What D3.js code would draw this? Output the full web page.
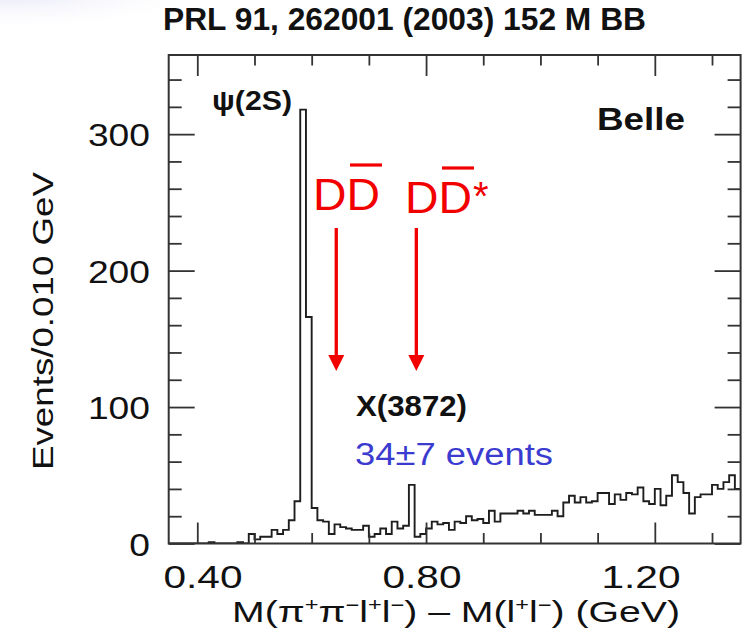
<!DOCTYPE html>
<html>
<head>
<meta charset="utf-8">
<script src="https://cdn.jsdelivr.net/npm/d3@7"></script>
<style>
  html, body { margin: 0; padding: 0; background: #fff; }
  svg { display: block; font-family: "Liberation Sans", Arial, Helvetica, sans-serif; }
</style>
</head>
<body>
<svg id="chart" width="746" height="630"></svg>
<script>
// ---- data: M(pi pi l l) - M(l l), events per 0.010 GeV bin ----
const binStart = 0.35;
const binWidth = 0.01;
const counts = [
  0, 0, 0, 0, 0, 0, 0, 1, 0, 0,          // 0.35 - 0.44
  0, 0, 1, 0, 7, 3, 5, 5, 10, 7,         // 0.45 - 0.54
  10, 17, 31, 318, 166, 26, 17, 16, 7, 14, // 0.55 - 0.64
  12, 11, 10, 10, 13, 5, 7, 11, 7, 16,   // 0.65 - 0.74
  11, 13, 43, 5, 7, 11, 16, 14, 15, 10,  // 0.75 - 0.84
  16, 15, 20, 17, 18, 15, 24, 16, 22, 22, // 0.85 - 0.94
  22, 24, 22, 24, 21, 21, 21, 24, 20, 30, // 0.95 - 1.04
  35, 30, 34, 30, 31, 37, 37, 29, 36, 32, // 1.05 - 1.14
  37, 36, 41, 31, 29, 40, 28, 35, 50, 45, // 1.15 - 1.24
  37, 22, 34, 36, 36, 43, 40, 45, 50, 40  // 1.25 - 1.34
];

const xDomain = [0.35, 1.35];
const yDomain = [0, 358];
const xMajorTicks = [0.40, 0.80, 1.20];
const xMinorTicks = [0.50, 0.60, 0.70, 0.90, 1.00, 1.10, 1.30];
const xTickLabels = ["0.40", "0.80", "1.20"];
const yMajorTicks = [0, 100, 200, 300];
const yMinorTicks = [20, 40, 60, 80, 120, 140, 160, 180, 220, 240, 260, 280, 320, 340];
const yTickLabels = ["0", "100", "200", "300"];

// open-charm thresholds marked with arrows
const thresholdNames = ["DD", "DD"];
const thresholdStars = [false, true];
const thresholdPos = [0.643, 0.783];

// ---- layout ----
const svg = d3.select("#chart");
const plot = { left: 168.7, right: 740.6, top: 55, bottom: 543.5 };

const x = d3.scaleLinear().domain(xDomain).range([plot.left, plot.right]);
const y = d3.scaleLinear().domain(yDomain).range([plot.bottom, plot.top]);
// tick numbers are set on a slightly narrower scale under the axis
const xLabel = d3.scaleLinear().domain([0.40, 1.20]).range([203, 641]);

// faint slide backdrop in the upper-left corner
const defs = svg.append("defs");
const grad = defs.append("radialGradient").attr("id", "haze")
  .attr("cx", "0.3").attr("cy", "0.2").attr("r", "0.7");
grad.append("stop").attr("offset", "0").attr("stop-color", "#dcdcf4").attr("stop-opacity", 0.8);
grad.append("stop").attr("offset", "1").attr("stop-color", "#ffffff").attr("stop-opacity", 0);
svg.append("ellipse").attr("cx", 70).attr("cy", 8).attr("rx", 150).attr("ry", 30)
  .attr("fill", "url(#haze)");

defs.append("clipPath").attr("id", "plotClip").append("rect")
  .attr("x", plot.left).attr("y", plot.top)
  .attr("width", plot.right - plot.left).attr("height", plot.bottom - plot.top);

// ---- histogram ----
const steps = counts.map((c, i) => [binStart + i * binWidth, c]);
steps.push([binStart + counts.length * binWidth, counts[counts.length - 1]]);
const histLine = d3.line().x(d => x(d[0])).y(d => y(d[1])).curve(d3.curveStepAfter);

svg.append("path")
  .attr("clip-path", "url(#plotClip)")
  .attr("d", histLine(steps))
  .attr("fill", "none")
  .attr("stroke", "#1e1e1e")
  .attr("stroke-width", 1.9);

// ---- frame and ticks (ticks point inward on all four sides) ----
const axisColor = "#333";
const bottomAxis = d3.axisBottom(x).tickValues(xMajorTicks).tickSize(-21).tickFormat("");
const bottomMinor = d3.axisBottom(x).tickValues(xMinorTicks).tickSize(-10.5).tickFormat("");
const topAxis = d3.axisTop(x).tickValues(xMajorTicks).tickSize(-21).tickFormat("");
const topMinor = d3.axisTop(x).tickValues(xMinorTicks).tickSize(-10.5).tickFormat("");
const leftAxis = d3.axisLeft(y).tickValues(yMajorTicks).tickSize(-26).tickFormat("");
const leftMinor = d3.axisLeft(y).tickValues(yMinorTicks).tickSize(-13).tickFormat("");
const rightAxis = d3.axisRight(y).tickValues(yMajorTicks).tickSize(-26).tickFormat("");
const rightMinor = d3.axisRight(y).tickValues(yMinorTicks).tickSize(-13).tickFormat("");

function drawAxis(axis, tx, ty) {
  const g = svg.append("g").attr("transform", `translate(${tx},${ty})`).call(axis);
  g.select(".domain").remove();
  g.selectAll(".tick line").attr("stroke", axisColor).attr("stroke-width", 1.8);
}
drawAxis(bottomAxis, 0, plot.bottom);
drawAxis(bottomMinor, 0, plot.bottom);
drawAxis(topAxis, 0, plot.top);
drawAxis(topMinor, 0, plot.top);
drawAxis(leftAxis, plot.left, 0);
drawAxis(leftMinor, plot.left, 0);
drawAxis(rightAxis, plot.right, 0);
drawAxis(rightMinor, plot.right, 0);

svg.append("rect")
  .attr("x", plot.left).attr("y", plot.top)
  .attr("width", plot.right - plot.left).attr("height", plot.bottom - plot.top)
  .attr("fill", "none").attr("stroke", axisColor).attr("stroke-width", 2);

// ---- tick labels ----
svg.append("g").selectAll("text").data(xMajorTicks).join("text")
  .attr("x", d => xLabel(d)).attr("y", 588)
  .attr("text-anchor", "middle")
  .attr("font-size", 31).attr("fill", "#111")
  .attr("textLength", 79).attr("lengthAdjust", "spacingAndGlyphs")
  .text((d, i) => xTickLabels[i]);

svg.append("g").selectAll("text").data(yMajorTicks).join("text")
  .attr("x", 150).attr("y", d => y(d) + 12)
  .attr("text-anchor", "end")
  .attr("font-size", 31).attr("fill", "#111")
  .attr("textLength", (d, i) => yTickLabels[i].length * 20.7)
  .attr("lengthAdjust", "spacingAndGlyphs")
  .text((d, i) => yTickLabels[i]);

// ---- axis titles ----
svg.append("text")
  .attr("transform", "translate(53,321) rotate(-90)")
  .attr("text-anchor", "middle")
  .attr("font-size", 30).attr("fill", "#111")
  .attr("textLength", 298).attr("lengthAdjust", "spacingAndGlyphs")
  .text("Events/0.010 GeV");

const xTitle = svg.append("text")
  .attr("x", 232).attr("y", 622)
  .attr("font-size", 30).attr("fill", "#111")
  .attr("textLength", 448).attr("lengthAdjust", "spacingAndGlyphs");
const titleParts = [["M(π", 0], ["+", 1], ["π", 0], ["−", 1], ["l", 0], ["+", 1], ["l", 0], ["−", 1],
  [") – M(l", 0], ["+", 1], ["l", 0], ["−", 1], [") (GeV)", 0]];
titleParts.forEach(([t, sup], i) => {
  const prevSup = i > 0 && titleParts[i - 1][1];
  let dy = 0;
  if (sup && !prevSup) dy = -11;
  else if (!sup && prevSup) dy = 11;
  const ts = xTitle.append("tspan").attr("dy", dy).text(t);
  if (sup) ts.attr("font-size", 18);
});

// ---- title ----
svg.append("text")
  .attr("x", 163).attr("y", 30)
  .attr("font-size", 31).attr("font-weight", "bold").attr("fill", "#111")
  .attr("textLength", 483).attr("lengthAdjust", "spacingAndGlyphs")
  .text("PRL 91, 262001 (2003) 152 M BB");

// ---- annotations ----
svg.append("text")
  .attr("x", 212).attr("y", 110)
  .attr("font-size", 27).attr("font-weight", "bold").attr("fill", "#111")
  .attr("textLength", 80).attr("lengthAdjust", "spacingAndGlyphs")
  .text("ψ(2S)");

svg.append("text")
  .attr("x", 597).attr("y", 130)
  .attr("font-size", 31).attr("font-weight", "bold").attr("fill", "#111")
  .attr("textLength", 88).attr("lengthAdjust", "spacingAndGlyphs")
  .text("Belle");

// threshold labels and arrows
const red = "#f20000";
const labelLeft = [313, 405];
const labelBase = [210, 213];
thresholdPos.forEach((p, i) => {
  const lx = labelLeft[i], ly = labelBase[i];
  svg.append("text")
    .attr("x", lx).attr("y", ly)
    .attr("font-size", 44).attr("fill", red)
    .attr("textLength", 67).attr("lengthAdjust", "spacingAndGlyphs")
    .text(thresholdNames[i]);
  // bar over the anti-D
  svg.append("line")
    .attr("x1", lx + 37).attr("x2", lx + 69)
    .attr("y1", ly - 45).attr("y2", ly - 45)
    .attr("stroke", red).attr("stroke-width", 3.2);
  if (thresholdStars[i]) {
    svg.append("text")
      .attr("x", lx + 68).attr("y", ly - 3)
      .attr("font-size", 40).attr("fill", red)
      .text("*");
  }
  const ax = x(p);
  svg.append("line")
    .attr("x1", ax).attr("x2", ax)
    .attr("y1", 228).attr("y2", 356)
    .attr("stroke", red).attr("stroke-width", 3.3);
  svg.append("path")
    .attr("d", `M${ax - 8},355 L${ax + 8},355 L${ax},371 Z`)
    .attr("fill", red);
});

svg.append("text")
  .attr("x", 356).attr("y", 416)
  .attr("font-size", 29).attr("font-weight", "bold").attr("fill", "#111")
  .attr("textLength", 111).attr("lengthAdjust", "spacingAndGlyphs")
  .text("X(3872)");

svg.append("text")
  .attr("x", 355).attr("y", 465)
  .attr("font-size", 31).attr("fill", "#3b3bcf")
  .attr("textLength", 198).attr("lengthAdjust", "spacingAndGlyphs")
  .text("34±7 events");
</script>
</body>
</html>
